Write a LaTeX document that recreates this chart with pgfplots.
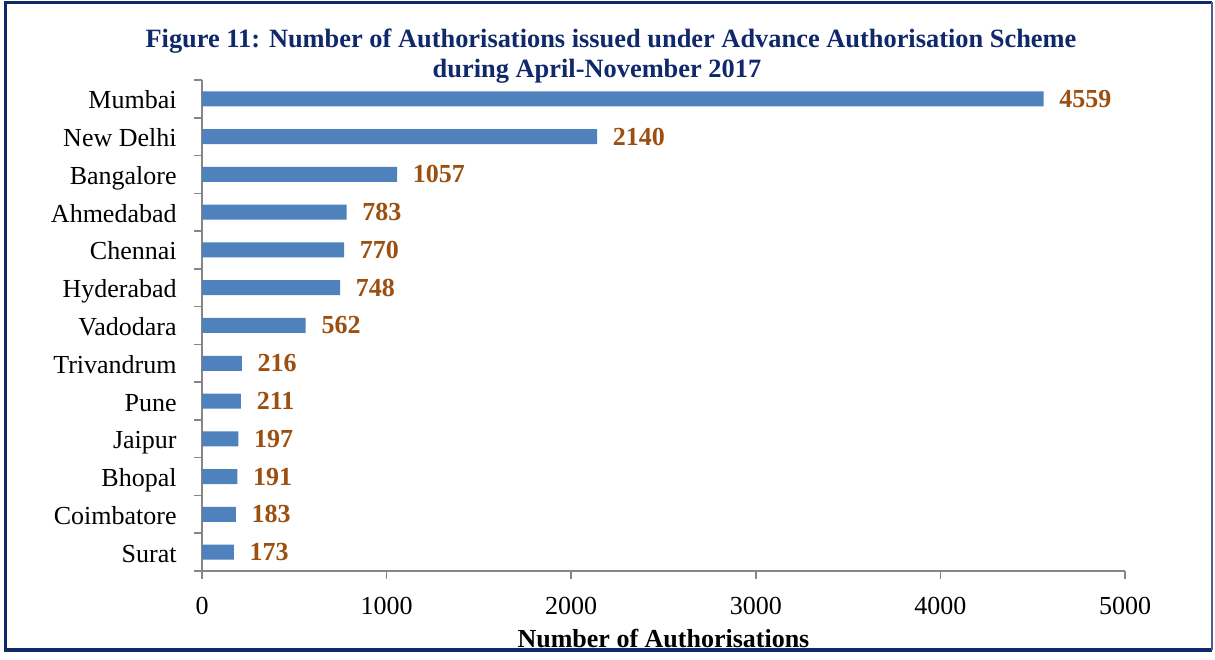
\documentclass[border=0pt]{standalone}
\usepackage{fontspec}
\setmainfont{Liberation Serif}
\usepackage{pgfplots}
\pgfplotsset{compat=1.18}
\definecolor{barblue}{HTML}{4F81BD}
\definecolor{lblbrown}{HTML}{9C4F0F}
\definecolor{navy}{HTML}{10296A}
\definecolor{axgray}{HTML}{868686}
\begin{document}
\begin{tikzpicture}[x=1pt,y=1pt]
\useasboundingbox (0,0) rectangle (607.5,329.5);
\fill[white] (0,0) rectangle (607.5,329.5);
\draw[navy, line width=1.6pt] (606,4.5) -- (2.75,4.5) -- (2.75,328.4) -- (606,328.4);
\draw[navy!75, line width=0.6pt] (606,328.4) -- (606,4.5);
\node[font=\fontsize{13.2}{15}\selectfont\bfseries, text=navy] at (305.5,309) {Figure 11: Number of Authorisations issued under Advance Authorisation Scheme};
\node[font=\fontsize{13.2}{15}\selectfont\bfseries, text=navy] at (298.5,294) {during April-November 2017};
\begin{axis}[
  at={(101pt,44pt)}, anchor=south west,
  scale only axis, width=461.5pt, height=245.5pt,
  xbar, bar width=7.5pt,
  xmin=0, xmax=5000, ymin=-0.5, ymax=12.5,
  axis lines*=left,
  axis line style={draw=axgray, line width=0.8pt},
  tick align=outside, major tick length=4pt,
  tick style={draw=axgray, line width=0.8pt},
  xtick={0,1000,...,5000},
  scaled x ticks=false,
  /pgf/number format/1000 sep={},
  /pgf/number format/assume math mode=true,
  ytick={-0.5,0.5,...,12.5}, yticklabels={},
  extra y ticks={0,1,...,12},
  extra y tick labels={Surat,Coimbatore,Bhopal,Jaipur,Pune,Trivandrum,Vadodara,Hyderabad,Chennai,Ahmedabad,Bangalore,New Delhi,Mumbai},
  extra y tick style={major tick length=0pt, tick style={draw=none}},
  yticklabel style={anchor=base east, inner sep=0pt, xshift=-12.5pt, yshift=-5pt},
  ticklabel style={font=\fontsize{13}{15}\selectfont},
  xticklabel style={anchor=base, inner sep=0pt, yshift=-17.5pt},
  xlabel={Number of Authorisations},
  xlabel style={font=\fontsize{13}{15}\selectfont\bfseries, at={(axis description cs:0.5,-0.1548)}, anchor=base, inner sep=0pt},
  nodes near coords,
  nodes near coords style={anchor=west, inner sep=0pt, xshift=7.7pt, font=\fontsize{13}{15}\selectfont\bfseries, text=lblbrown},
  clip=false,
]
\addplot[fill=barblue, draw=none] coordinates {
(173,0) (183,1) (191,2) (197,3) (211,4) (216,5) (562,6) (748,7) (770,8) (783,9) (1057,10) (2140,11) (4559,12)};
\end{axis}
\end{tikzpicture}
\end{document}
